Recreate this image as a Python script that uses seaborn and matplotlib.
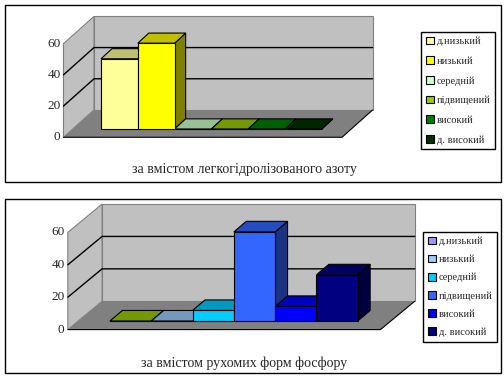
import pandas as pd
import matplotlib
matplotlib.use('Agg')
import matplotlib.pyplot as plt
from matplotlib.patches import Polygon, Rectangle, Patch
from matplotlib.colors import to_rgb
import seaborn as sns

# Дані (відсотки площ за рівнями забезпеченості)
levels = ['д.низький', 'низький', 'середній', 'підвищений', 'високий', 'д. високий']
nitrogen = [45, 55, 0, 0, 0, 0]
phosphorus = [0, 0, 6.5, 55, 9, 28.5]
nitrogen_colors = ['#ffff99', '#ffff00', '#ccffcc', '#99cc00', '#008000', '#003300']
phosphorus_colors = ['#99cc00', '#99ccff', '#00ccff', '#3366ff', '#0000ff', '#000080']
phosphorus_legend = ['#9999ff', '#99ccff', '#00ccff', '#3366ff', '#0000ff', '#000080']
ticks = [0, 20, 40, 60]
captions = ['за вмістом легкогідролізованого азоту', 'за вмістом рухомих форм фосфору']

sns.set_theme(style='white')
plt.rcParams['font.family'] = ['Liberation Serif', 'DejaVu Serif']

W, H = 504, 378
fig = plt.figure(figsize=(W / 100, H / 100), dpi=100)

# "3D" геометрія в одиницях даних
fl, fr = -1.52, 6.05          # передній край стінки/підлоги
fy = -5.3                     # передній край підлоги
wdx, wdy = 0.83, 17.5         # глибина стінок
bdx, bdy = 0.30, 6.5          # глибина стовпців
top = max(ticks)


def shade(c, k):
    r, g, b = to_rgb(c)
    return (r * k, g * k, b * k)


def panel(values, colors, legend_colors, caption, frame, origin, scale, leg_pos, spacing, cap_dy):
    # рамка панелі
    x0, y0, x1, y1 = frame
    fig.add_artist(Rectangle((x0 / W, 1 - y1 / H), (x1 - x0) / W, (y1 - y0) / H,
                             transform=fig.transFigure, fill=False,
                             edgecolor='black', linewidth=1))
    ox, oy = origin
    sx, sy = scale
    xlim, ylim = (-2.2, 7.3), (-14, 78)
    left = ox + xlim[0] * sx
    width = (xlim[1] - xlim[0]) * sx
    top_px = oy - ylim[1] * sy
    height = (ylim[1] - ylim[0]) * sy
    ax = fig.add_axes([left / W, 1 - (top_px + height) / H, width / W, height / H])

    # стінки і підлога
    ax.add_patch(Polygon([(fl, fy), (fr, fy), (fr + wdx, fy + wdy), (fl + wdx, fy + wdy)],
                         closed=True, facecolor='#808080', edgecolor='none', zorder=1))
    ax.add_patch(Polygon([(fl, fy), (fl, fy + top), (fl + wdx, fy + wdy + top), (fl + wdx, fy + wdy)],
                         closed=True, facecolor='#c0c0c0', edgecolor='#808080', linewidth=0.8, zorder=1))
    ax.add_patch(Rectangle((fl + wdx, fy + wdy), fr - fl, top,
                           facecolor='#c0c0c0', edgecolor='#808080', linewidth=0.8, zorder=1))
    ax.plot([fl, fr, fr + wdx], [fy, fy, fy + wdy], color='black', linewidth=0.8, zorder=1.2)
    for t in ticks[1:-1]:
        ax.plot([fl, fl + wdx, fr + wdx], [fy + t, fy + wdy + t, fy + wdy + t],
                color='black', linewidth=1, zorder=1.1)
    for t in ticks:
        ax.text(fl - 0.08, fy + t, str(t), ha='right', va='center', fontsize=9.5)

    df = pd.DataFrame({'level': levels, 'value': values})
    sns.barplot(data=df, x='level', y='value', hue='level', order=levels, hue_order=levels,
                palette=colors, legend=False, width=1, edgecolor='black', linewidth=0.8,
                saturation=1, zorder=3, ax=ax)

    bars = sorted([p for p in ax.patches if isinstance(p, Rectangle) and p.get_zorder() == 3],
                  key=lambda p: p.get_x())
    for p, c in zip(bars, colors):
        bx, bw, bh = p.get_x(), p.get_width(), p.get_height()
        ax.add_patch(Polygon([(bx + bw, 0), (bx + bw, bh), (bx + bw + bdx, bh + bdy), (bx + bw + bdx, bdy)],
                             closed=True, facecolor=shade(c, 0.5), edgecolor='black',
                             linewidth=0.8, zorder=2))
        ax.add_patch(Polygon([(bx, bh), (bx + bw, bh), (bx + bw + bdx, bh + bdy), (bx + bdx, bh + bdy)],
                             closed=True, facecolor=shade(c, 0.75), edgecolor='black',
                             linewidth=0.8, zorder=2.5))

    ax.set_xlim(xlim)
    ax.set_ylim(ylim)
    ax.set_axis_off()

    handles = [Patch(facecolor=c, edgecolor='black', linewidth=0.8) for c in legend_colors]
    leg = ax.legend(handles, levels, loc='upper left',
                    bbox_to_anchor=(leg_pos[0] / W, 1 - leg_pos[1] / H),
                    bbox_transform=fig.transFigure, frameon=True, fancybox=False,
                    edgecolor='black', framealpha=1, fontsize=7.5,
                    handlelength=0.75, handleheight=0.75, handletextpad=0.3,
                    labelspacing=spacing, borderpad=0.45, borderaxespad=0)
    leg.get_frame().set_linewidth(1)

    fig.text(((x0 + x1) / 2 - 9) / W, 1 - (y1 - cap_dy) / H, caption,
             ha='center', va='center', fontsize=10)


panel(nitrogen, nitrogen_colors, nitrogen_colors, captions[0],
      (5, 5, 501, 182), (119.4, 129), (36.8, 1.56), (421, 32), 0.98, 13)
panel(phosphorus, phosphorus_colors, phosphorus_legend, captions[1],
      (5, 199, 501, 373), (130.6, 321), (41.3, 1.62), (423, 232), 0.83, 10)

fig.savefig('out.png', dpi=100, facecolor='white')
